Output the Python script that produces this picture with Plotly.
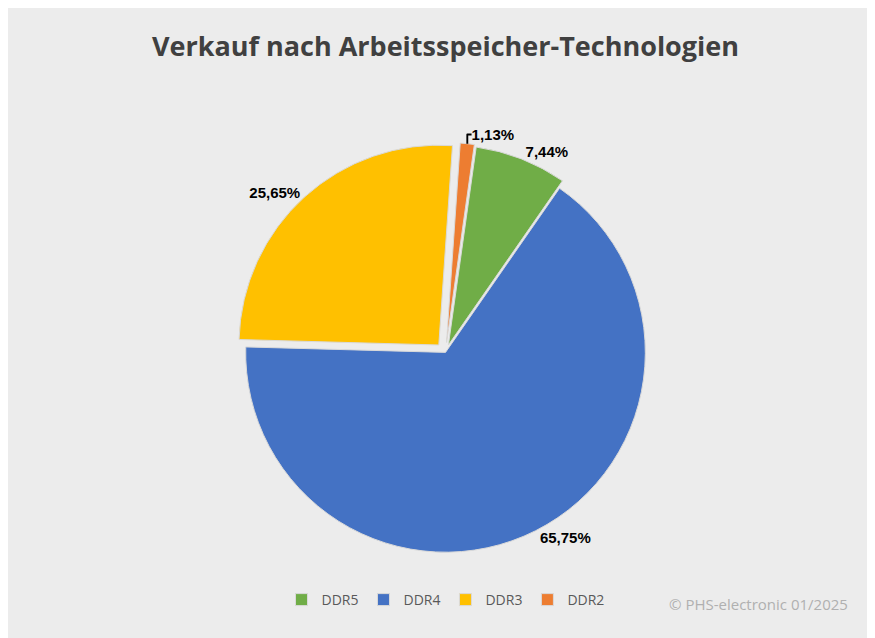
import plotly.graph_objects as go

labels = ["DDR5", "DDR4", "DDR3", "DDR2"]
values = [7.44, 65.75, 25.65, 1.13]
text_labels = ["<b>7,44%</b>", "<b>65,75%</b>", "<b>25,65%</b>", "<b>1,13%</b>"]
colors = ["#70ad47", "#4472c4", "#ffc000", "#ed7d31"]

fig = go.Figure(data=[go.Pie(
    labels=labels, values=values, text=text_labels,
    sort=False, direction="clockwise", rotation=8,
    pull=[0.04, 0.0, 0.05, 0.05],
    textinfo="text", textposition="outside",
    textfont=dict(family="Liberation Sans", size=15, color="black"),
    marker=dict(colors=colors, line=dict(color="#d9d9d9", width=1)),
    domain=dict(x=[0.2, 0.8], y=[0.1, 0.88]),
    hoverinfo="label+value",
)])

fig.update_layout(
    width=875, height=638,
    margin=dict(l=20, r=20, t=70, b=30),
    paper_bgcolor="#ececec",
    title=dict(text="<b>Verkauf nach Arbeitsspeicher-Technologien</b>", x=0.5, y=0.955,
               font=dict(family="Open Sans", size=27, color="#404040")),
    legend=dict(orientation="h", x=0.5, xanchor="center", y=0.0, yanchor="bottom",
                font=dict(family="Open Sans", size=14, color="#595959"),
                traceorder="normal", itemwidth=30),
    annotations=[dict(text="© PHS-electronic 01/2025", x=0.985, y=0.0,
                      xref="paper", yref="paper", xanchor="right", yanchor="bottom",
                      showarrow=False,
                      font=dict(family="Open Sans", size=15, color="#b0b0b0"))],
)

fig.write_html("out.html")
